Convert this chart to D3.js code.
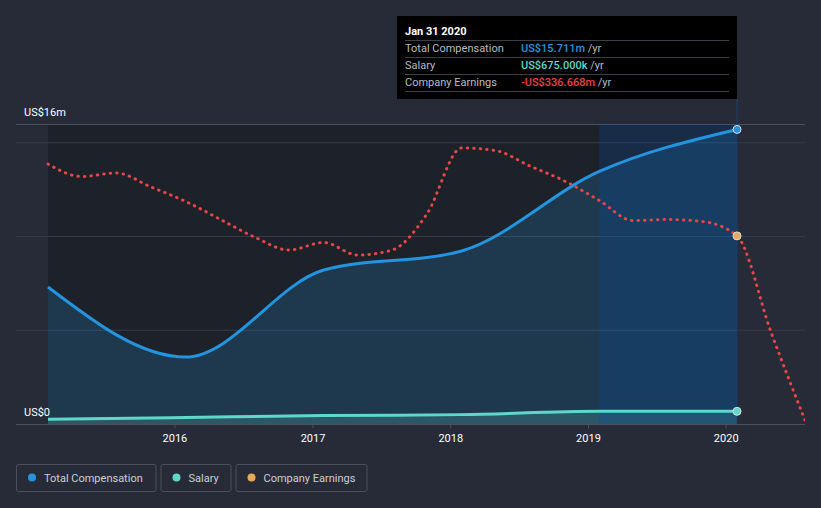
<!DOCTYPE html>
<html>
<head>
<meta charset="utf-8">
<script src="https://cdn.jsdelivr.net/npm/d3@7"></script>
<style>
  body { margin: 0; background: #262b37; }
  svg { display: block; font-family: Roboto, "Noto Sans", sans-serif; }
</style>
</head>
<body>
<svg id="chart" width="821" height="508"></svg>
<script>
// yearly compensation (fiscal years ending Jan 31), US$ millions
var compDates = ["2015-01-31", "2016-01-31", "2017-01-31", "2018-01-31", "2019-01-31", "2020-01-31"];
var compValues = [7.31, 3.57, 8.21, 9.23, 13.47, 15.711];
var salaryValues = [0.25, 0.35, 0.45, 0.50, 0.675, 0.675];

// quarterly trailing company earnings, US$ millions
var earnDates = ["2015-01-31", "2015-04-30", "2015-07-31", "2015-10-31",
                 "2016-01-31", "2016-04-30", "2016-07-31", "2016-10-31",
                 "2017-01-31", "2017-04-30", "2017-07-31", "2017-10-31",
                 "2018-01-31", "2018-04-30", "2018-07-31", "2018-10-31",
                 "2019-01-31", "2019-04-30", "2019-07-31", "2019-10-31",
                 "2020-01-31", "2020-04-30", "2020-07-31"];
var earnValues = [-183.3, -210.0, -202.5, -232.4,
                  -263.3, -300.7, -339.1, -366.8,
                  -350.8, -377.5, -366.8, -290.0,
                  -149.2, -154.5, -187.6, -219.6,
                  -261.2, -303.9, -301.7, -306.0,
                  -336.668, -541.7, -733.7];

var yearTicks = [2016, 2017, 2018, 2019, 2020];
var gridValues = [5, 10, 15];
var yLabelValues = [0, 16];
var yLabels = ["US$0", "US$16m"];

var legendNames = ["Total Compensation", "Salary", "Company Earnings"];
var legendColors = ["#2394df", "#5fd8c9", "#e8a857"];

var tipTitle = "Jan 31 2020";
var tipLabels = ["Total Compensation", "Salary", "Company Earnings"];
var tipValues = ["US$15.711m", "US$675.000k", "-US$336.668m"];
var tipColors = ["#2394df", "#5fd8c9", "#e84545"];

var parse = d3.utcParse("%Y-%m-%d");
var comp = compDates.map(function (d, i) { return { date: parse(d), v: compValues[i], s: salaryValues[i] }; });
var earn = earnDates.map(function (d, i) { return { date: parse(d), v: earnValues[i] }; });

var pLeft = 16, pRight = 805, pTop = 124, pBottom = 424;

var svg = d3.select("#chart");

var x = d3.scaleUtc()
          .domain([new Date(Date.UTC(2016, 0, 1)), new Date(Date.UTC(2020, 0, 1))])
          .range([174.4, 725.7]);
var y = d3.scaleLinear().domain([0, 16]).range([pBottom, pTop]);
var yE = d3.scaleLinear().domain([-738, -98]).range([pBottom, pTop]);

svg.append("rect").attr("width", 821).attr("height", 508).attr("fill", "#262b37");

svg.append("defs").append("clipPath").attr("id", "plotclip")
   .append("rect").attr("x", pLeft).attr("y", 0).attr("width", pRight - pLeft).attr("height", pBottom + 2);

var first = comp[0].date, last = comp[comp.length - 1].date, prev = comp[comp.length - 2].date;

// darker data range
svg.append("rect")
   .attr("x", x(first)).attr("y", pTop)
   .attr("width", x(last) - x(first)).attr("height", pBottom - pTop)
   .attr("fill", "#000").attr("opacity", 0.22);

// grid
svg.selectAll(".grid").data(gridValues).enter().append("line")
   .attr("x1", pLeft).attr("x2", pRight)
   .attr("y1", function (d) { return y(d); }).attr("y2", function (d) { return y(d); })
   .attr("stroke", "#363b47").attr("stroke-width", 1);

svg.selectAll(".edge").data(yLabelValues).enter().append("line")
   .attr("x1", pLeft).attr("x2", pRight)
   .attr("y1", function (d) { return y(d) + 0.5; }).attr("y2", function (d) { return y(d) + 0.5; })
   .attr("stroke", "#4c515c").attr("stroke-width", 1);

// areas
var areaComp = d3.area().curve(d3.curveMonotoneX)
                 .x(function (d) { return x(d.date); })
                 .y0(y(0)).y1(function (d) { return y(d.v); });
var areaSal = d3.area().curve(d3.curveMonotoneX)
                .x(function (d) { return x(d.date); })
                .y0(y(0)).y1(function (d) { return y(d.s); });

svg.append("path").datum(comp).attr("d", areaComp).attr("fill", "#2394df").attr("opacity", 0.2);
svg.append("path").datum(comp).attr("d", areaSal).attr("fill", "#5fd8c9").attr("opacity", 0.2);

// hovered year band
svg.append("rect")
   .attr("x", x(prev)).attr("y", pTop)
   .attr("width", x(last) - x(prev)).attr("height", pBottom - pTop)
   .attr("fill", "#0a4ea8").attr("opacity", 0.24);

svg.append("line")
   .attr("x1", x(last)).attr("x2", x(last))
   .attr("y1", 99).attr("y2", pBottom)
   .attr("stroke", "#1d3e6a").attr("stroke-width", 1);

// lines
var lineComp = d3.line().curve(d3.curveMonotoneX)
                 .x(function (d) { return x(d.date); }).y(function (d) { return y(d.v); });
var lineSal = d3.line().curve(d3.curveMonotoneX)
                .x(function (d) { return x(d.date); }).y(function (d) { return y(d.s); });
var lineEarn = d3.line().curve(d3.curveMonotoneX)
                 .x(function (d) { return x(d.date); }).y(function (d) { return yE(d.v); });

svg.append("path").datum(earn).attr("d", lineEarn)
   .attr("clip-path", "url(#plotclip)")
   .attr("fill", "none").attr("stroke", "#e84545").attr("stroke-width", 3)
   .attr("stroke-dasharray", "0.5,6").attr("stroke-linecap", "round");

svg.append("path").datum(comp).attr("d", lineSal)
   .attr("fill", "none").attr("stroke", "#5fd8c9").attr("stroke-width", 3);

svg.append("path").datum(comp).attr("d", lineComp)
   .attr("fill", "none").attr("stroke", "#2394df").attr("stroke-width", 3);

// hover dots
var lastComp = comp[comp.length - 1];
var hoverEarn = earn.filter(function (d) { return +d.date === +last; })[0];
var dots = [
  { cx: x(last), cy: y(lastComp.v), c: "#2394df" },
  { cx: x(last), cy: y(lastComp.s), c: "#5fd8c9" },
  { cx: x(last), cy: yE(hoverEarn.v), c: "#e8a857" }
];
svg.selectAll(".dot").data(dots).enter().append("circle")
   .attr("cx", function (d) { return d.cx; }).attr("cy", function (d) { return d.cy; })
   .attr("r", 4).attr("fill", function (d) { return d.c; })
   .attr("stroke", "#d8dde6").attr("stroke-width", 1);

// x axis
var xAxis = d3.axisBottom(x)
              .tickValues(yearTicks.map(function (d) { return new Date(Date.UTC(d, 0, 1)); }))
              .tickFormat(d3.utcFormat("%Y"))
              .tickSize(4).tickPadding(6);
var gx = svg.append("g").attr("transform", "translate(0," + (pBottom + 0.5) + ")").call(xAxis);
gx.select(".domain").remove();
gx.selectAll(".tick line").attr("stroke", "#4c515c");
gx.selectAll(".tick text").attr("fill", "#ffffff").attr("font-size", "11px")
  .attr("font-family", "Roboto, sans-serif");

// y labels
svg.selectAll(".ylab").data(yLabelValues).enter().append("text")
   .attr("x", 24).attr("y", function (d) { return y(d) - 8; })
   .attr("fill", "#ffffff").attr("font-size", "11px")
   .text(function (d, i) { return yLabels[i]; });

// tooltip
var tip = svg.append("g");
tip.append("rect").attr("x", 397).attr("y", 16).attr("width", 340).attr("height", 83).attr("fill", "#000");
tip.append("text").attr("x", 405).attr("y", 35).attr("fill", "#fff")
   .attr("font-size", "11px").attr("font-weight", "bold").text(tipTitle);
var sepY = [40.5, 57.5, 74.5, 91.5];
tip.selectAll(".sep").data(sepY).enter().append("line")
   .attr("x1", 405).attr("x2", 729)
   .attr("y1", function (d) { return d; }).attr("y2", function (d) { return d; })
   .attr("stroke", "#3c3f45").attr("stroke-width", 1);
tipLabels.forEach(function (lab, i) {
  var by = 52 + i * 16.8;
  tip.append("text").attr("x", 405).attr("y", by).attr("fill", "#b9bcc2")
     .attr("font-size", "11px").text(lab);
  var t = tip.append("text").attr("x", 521).attr("y", by).attr("font-size", "11px");
  t.append("tspan").attr("fill", tipColors[i]).attr("font-weight", 500).text(tipValues[i]);
  t.append("tspan").attr("fill", "#b9bcc2").text(" /yr");
});

// legend
var legX = [16, 160.5, 235.5], legW = [139.5, 70, 131];
var leg = svg.selectAll(".leg").data(legendNames).enter().append("g")
             .attr("transform", function (d, i) { return "translate(" + legX[i] + ",464)"; });
leg.append("rect").attr("x", 0.5).attr("y", 0.5)
   .attr("width", function (d, i) { return legW[i]; }).attr("height", 27)
   .attr("rx", 2).attr("fill", "none").attr("stroke", "#4b505b");
leg.append("circle").attr("cx", 16).attr("cy", 13.5).attr("r", 4)
   .attr("fill", function (d, i) { return legendColors[i]; });
leg.append("text").attr("x", 28).attr("y", 17.5).attr("fill", "#cdd0d5")
   .attr("font-size", "11px").text(function (d) { return d; });
</script>
</body>
</html>
